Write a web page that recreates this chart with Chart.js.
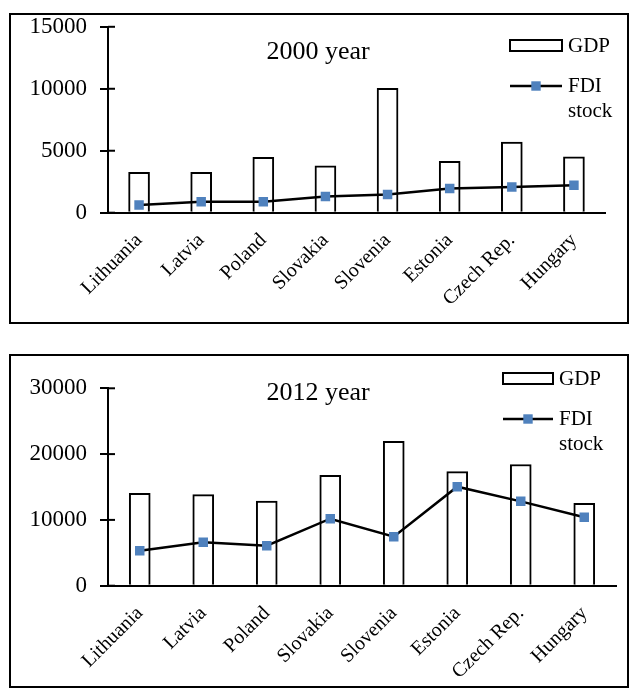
<!DOCTYPE html>
<html>
<head>
<meta charset="utf-8">
<script src="https://cdn.jsdelivr.net/npm/chart.js@4.4.1/dist/chart.umd.min.js"></script>
<style>
  body { margin: 0; background: #fff; }
  .wrap { position: absolute; left: 0; width: 629px; }
  .box { position: absolute; border: 2px solid #000; box-sizing: border-box; }
</style>
</head>
<body>
<div class="box" style="left:9px; top:13px; width:620px; height:311px;"></div>
<div class="box" style="left:9px; top:354px; width:620px; height:334px;"></div>
<div class="wrap" style="top:0; height:335px;"><canvas id="chart-2000"></canvas></div>
<div class="wrap" style="top:340px; height:351px;"><canvas id="chart-2012"></canvas></div>

<script>
const countries = ['Lithuania', 'Latvia', 'Poland', 'Slovakia', 'Slovenia', 'Estonia', 'Czech Rep.', 'Hungary'];

// 2000 year
const gdp2000 = [3260, 3260, 4470, 3790, 10030, 4145, 5700, 4515];
const fdi2000 = [620, 890, 890, 1300, 1460, 1945, 2080, 2220];
const ticks2000 = [0, 5000, 10000, 15000];

// 2012 year
const gdp2012 = [14040, 13830, 12870, 16780, 21950, 17330, 18420, 12500];
const fdi2012 = [5320, 6600, 6080, 10180, 7450, 15050, 12820, 10400];
const ticks2012 = [0, 10000, 20000, 30000];

const seriesNames = ['GDP', 'FDI stock'];

Chart.defaults.font.family = "'Liberation Serif', 'Times New Roman', serif";
Chart.defaults.color = '#000';

// title + legend sit inside the plot, so draw them by hand
const insideTitle = {
    id: 'insideTitle',
    afterDraw(chart, args, opts) {
        const ctx = chart.ctx;
        ctx.save();
        ctx.font = "26px 'Liberation Serif'";
        ctx.fillStyle = '#000';
        ctx.textAlign = 'center';
        ctx.textBaseline = 'alphabetic';
        ctx.fillText(opts.text, opts.x, opts.y);
        ctx.restore();
    }
};

const boxLegend = {
    id: 'boxLegend',
    afterDraw(chart, args, opts) {
        const ctx = chart.ctx;
        const bar = chart.data.datasets[1];
        const line = chart.data.datasets[0];
        const {x, y, w} = opts;
        ctx.save();
        ctx.font = "21px 'Liberation Serif'";
        ctx.textBaseline = 'middle';
        ctx.textAlign = 'left';

        // bar swatch
        ctx.fillStyle = bar.backgroundColor;
        ctx.strokeStyle = bar.borderColor;
        ctx.lineWidth = 2;
        ctx.fillRect(x, y, w, 11);
        ctx.strokeRect(x, y, w, 11);
        ctx.fillStyle = '#000';
        ctx.fillText(bar.label, x + w + 6, y + 6);

        // line swatch
        const ly = y + 46;
        ctx.strokeStyle = line.borderColor;
        ctx.lineWidth = 2.5;
        ctx.beginPath();
        ctx.moveTo(x, ly);
        ctx.lineTo(x + w, ly);
        ctx.stroke();
        ctx.fillStyle = line.pointBackgroundColor;
        ctx.fillRect(x + w / 2 - 4.7, ly - 4.7, 9.4, 9.4);
        ctx.fillStyle = '#000';
        line.label.split(' ').forEach((word, i) => {
            ctx.fillText(word, x + w + 6, ly + i * 25.5);
        });
        ctx.restore();
    }
};

// small tick stubs on the inner side of the y axis
const innerTicks = {
    id: 'innerTicks',
    afterDraw(chart) {
        const ctx = chart.ctx;
        const ys = chart.scales.y;
        const x0 = chart.chartArea.left;
        ctx.save();
        ctx.strokeStyle = '#000';
        ctx.lineWidth = 2;
        ys.ticks.forEach((t, i) => {
            const py = ys.getPixelForTick(i);
            ctx.beginPath();
            ctx.moveTo(x0, py);
            ctx.lineTo(x0 + 7, py);
            ctx.stroke();
        });
        ctx.restore();
    }
};

function makeChart(id, gdp, fdi, yTicks, cfg) {
    const ctx = document.getElementById(id).getContext('2d');
    return new Chart(ctx, {
        data: {
            labels: countries,
            datasets: [{
                type: 'line',
                label: seriesNames[1],
                data: fdi,
                borderColor: '#000',
                borderWidth: 2.5,
                pointStyle: 'rect',
                pointRadius: 6.7,
                pointBackgroundColor: '#4F81BD',
                pointBorderColor: '#4F81BD',
                pointBorderWidth: 0,
                tension: 0,
                order: 0
            }, {
                type: 'bar',
                label: seriesNames[0],
                data: gdp,
                backgroundColor: '#fff',
                borderColor: '#000',
                borderWidth: 2,
                barThickness: 21,
                order: 1
            }]
        },
        options: {
            responsive: true,
            maintainAspectRatio: false,
            animation: false,
            layout: {
                padding: {left: 0, right: cfg.padRight, top: cfg.padTop, bottom: 0}
            },
            scales: {
                x: {
                    grid: {display: false, drawTicks: false},
                    border: {display: true, color: '#000', width: 2},
                    ticks: {
                        font: {size: 20},
                        color: '#000',
                        minRotation: 45,
                        maxRotation: 45,
                        padding: 16
                    },
                    afterFit(scale) { scale.height = cfg.xHeight; }
                },
                y: {
                    min: yTicks[0],
                    max: yTicks[yTicks.length - 1],
                    afterBuildTicks(scale) {
                        scale.ticks = yTicks.map(v => ({value: v}));
                    },
                    grid: {
                        display: true,
                        drawOnChartArea: false,
                        drawTicks: true,
                        tickLength: 8,
                        color: '#000',
                        lineWidth: 2
                    },
                    border: {display: true, color: '#000', width: 2},
                    ticks: {
                        font: {size: 23},
                        color: '#000',
                        padding: 13,
                        callback: v => String(v)
                    },
                    afterFit(scale) { scale.width = 108; }
                }
            },
            plugins: {
                legend: {display: false},
                tooltip: {enabled: false},
                insideTitle: cfg.title,
                boxLegend: cfg.legend
            }
        },
        plugins: [insideTitle, boxLegend, innerTicks]
    });
}

makeChart('chart-2000', gdp2000, fdi2000, ticks2000, {
    padRight: 24,
    padTop: 26.7,
    xHeight: 122.3,
    title: {text: '2000 year', x: 318, y: 59},
    legend: {x: 510, y: 40, w: 52}
});

makeChart('chart-2012', gdp2012, fdi2012, ticks2012, {
    padRight: 13,
    padTop: 48.3,
    xHeight: 105.3,
    title: {text: '2012 year', x: 318, y: 60},
    legend: {x: 503, y: 33, w: 50}
});
</script>
</body>
</html>
